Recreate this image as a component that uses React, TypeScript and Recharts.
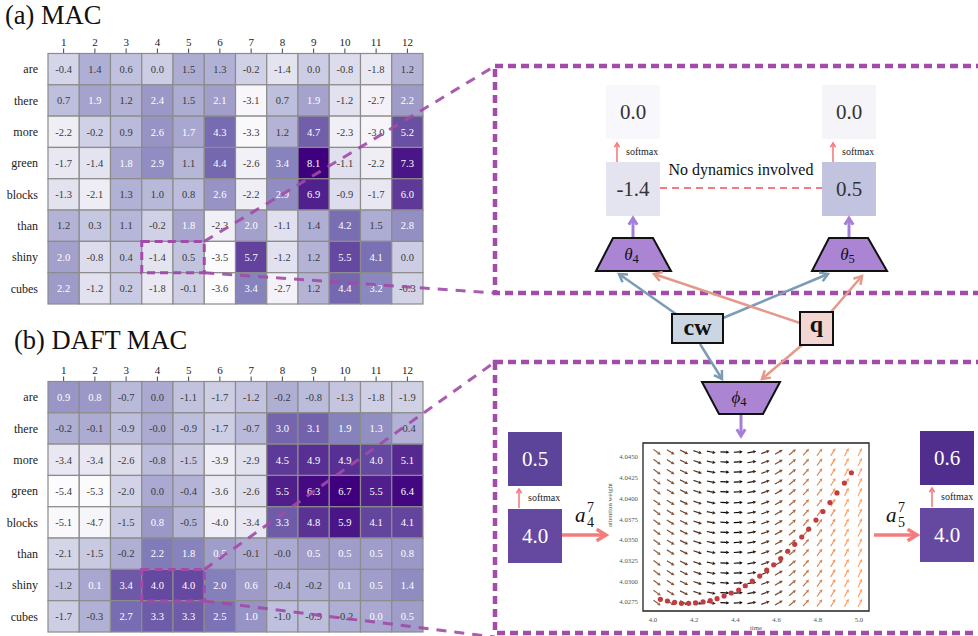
import React from 'react';
import { ScatterChart, Scatter, XAxis, YAxis, ReferenceArea } from 'recharts';

const FONT = '"Liberation Serif", "DejaVu Serif", serif';

// attention logits per word (rows) and reasoning step (columns)
const WORDS = ['are', 'there', 'more', 'green', 'blocks', 'than', 'shiny', 'cubes'];
const STEPS = [1, 2, 3, 4, 5, 6, 7, 8, 9, 10, 11, 12];

const MAC_LOGITS = [
  [-0.4, 1.4, 0.6, 0.0, 1.5, 1.3, -0.2, -1.4, 0.0, -0.8, -1.8, 1.2],
  [0.7, 1.9, 1.2, 2.4, 1.5, 2.1, -3.1, 0.7, 1.9, -1.2, -2.7, 2.2],
  [-2.2, -0.2, 0.9, 2.6, 1.7, 4.3, -3.3, 1.2, 4.7, -2.3, -3.0, 5.2],
  [-1.7, -1.4, 1.8, 2.9, 1.1, 4.4, -2.6, 3.4, 8.1, -1.1, -2.2, 7.3],
  [-1.3, -2.1, 1.3, 1.0, 0.8, 2.6, -2.2, 2.9, 6.9, -0.9, -1.7, 6.0],
  [1.2, 0.3, 1.1, -0.2, 1.8, -2.3, 2.0, -1.1, 1.4, 4.2, 1.5, 2.8],
  [2.0, -0.8, 0.4, -1.4, 0.5, -3.5, 5.7, -1.2, 1.2, 5.5, 4.1, 0.0],
  [2.2, -1.2, 0.2, -1.8, -0.1, -3.6, 3.4, -2.7, 1.2, 4.4, 3.2, -0.3],
];

const DAFT_LOGITS = [
  [0.9, 0.8, -0.7, 0.0, -1.1, -1.7, -1.2, -0.2, -0.8, -1.3, -1.8, -1.9],
  [-0.2, -0.1, -0.9, -0.04, -0.9, -1.7, -0.7, 3.0, 3.1, 1.9, 1.3, -0.4],
  [-3.4, -3.4, -2.6, -0.8, -1.5, -3.9, -2.9, 4.5, 4.9, 4.9, 4.0, 5.1],
  [-5.4, -5.3, -2.0, 0.0, -0.4, -3.6, -2.6, 5.5, 6.3, 6.7, 5.5, 6.4],
  [-5.1, -4.7, -1.5, 0.8, -0.5, -4.0, -3.4, 3.3, 4.8, 5.9, 4.1, 4.1],
  [-2.1, -1.5, -0.2, 2.2, 1.8, 0.5, -0.1, -0.04, 0.5, 0.5, 0.5, 0.8],
  [-1.2, 0.1, 3.4, 4.0, 4.0, 2.0, 0.6, -0.4, -0.2, 0.1, 0.5, 1.4],
  [-1.7, -0.3, 2.7, 3.3, 3.3, 2.5, 1.0, -1.0, -0.9, -0.2, 0.03, 0.5],
];

// highlighted cells: word "shiny", steps 4 and 5
const FOCUS_ROW = 6;
const FOCUS_STEPS = [4, 5];

// zoomed-in values for the two highlighted cells
const MAC_LOGIT_PAIR = [-1.4, 0.5];
const MAC_PROB_PAIR = [0.0, 0.0];
const DAFT_LOGIT_PAIR = [4.0, 4.0];
const DAFT_PROB_PAIR = [0.5, 0.6];

// ODE vector field and the solved attention trajectory
const FIELD_T = [4.02, 4.086, 4.151, 4.217, 4.283, 4.349, 4.414, 4.48, 4.546, 4.611, 4.677, 4.743, 4.809, 4.874, 4.94, 5.005];
const FIELD_W = [4.0274, 4.0286, 4.0298, 4.031, 4.0322, 4.0335, 4.0347, 4.0359, 4.0371, 4.0383, 4.0395, 4.0408, 4.042, 4.0432, 4.0444, 4.0456];
const FIELD_ANGLE = [-36, -32, -26, -19, -11, -3, 3, 10, 20, 30, 40, 48, 54, 59, 62, 65];
const TRAJ_T = [4.036, 4.07, 4.105, 4.138, 4.173, 4.207, 4.243, 4.278, 4.311, 4.345, 4.38, 4.416, 4.448, 4.482, 4.518, 4.552, 4.586, 4.62, 4.654, 4.688, 4.722, 4.756, 4.791, 4.825, 4.859, 4.893, 4.929, 4.963];
const TRAJ_W = [4.02782, 4.02762, 4.02746, 4.02734, 4.02734, 4.02738, 4.0275, 4.02766, 4.0279, 4.02822, 4.02858, 4.02894, 4.02946, 4.03002, 4.03062, 4.03134, 4.03198, 4.03274, 4.03362, 4.03446, 4.03534, 4.0363, 4.03738, 4.03842, 4.0395, 4.04066, 4.04186, 4.0431];
const T_TICKS = [4.0, 4.2, 4.4, 4.6, 4.8, 5.0];
const W_TICKS = [4.0275, 4.03, 4.0325, 4.035, 4.0375, 4.04, 4.0425, 4.045];

const PURPLES = ['#fcfbfd', '#efedf5', '#dadaeb', '#bcbddc', '#9e9ac8', '#807dba', '#6a51a3', '#54278f', '#3f007d'];

function hex(h: string) {
  return [1, 3, 5].map((i) => parseInt(h.slice(i, i + 2), 16));
}

function purples(t: number) {
  const s = Math.max(0, Math.min(1, t)) * (PURPLES.length - 1);
  const i = Math.min(PURPLES.length - 2, Math.floor(s));
  const f = s - i;
  const a = hex(PURPLES[i]);
  const b = hex(PURPLES[i + 1]);
  const c = a.map((v, k) => Math.round(v + (b[k] - v) * f));
  return `rgb(${c[0]},${c[1]},${c[2]})`;
}

function normOf(grid: number[][]) {
  const flat = grid.flat();
  const lo = Math.min(...flat);
  const hi = Math.max(...flat);
  return (v: number) => (v - lo) / (hi - lo);
}

const macNorm = normOf(MAC_LOGITS);
const daftNorm = normOf(DAFT_LOGITS);

// heatmap layout
const HEAT_W = 430;
const HEAT_H = 312;
const HEAT_LEFT = 48;
const HEAT_TOP = 53.5;
const HEAT_RIGHT = 7;
const HEAT_BOTTOM = 8;
const CELL_W = (HEAT_W - HEAT_LEFT - HEAT_RIGHT) / STEPS.length;
const CELL_H = (HEAT_H - HEAT_TOP - HEAT_BOTTOM) / WORDS.length;
const DAFT_TOP = 328.2;
const DASH = '#a24ba8';

const HeatCell = (props: any) => {
  const { cx, cy, payload } = props;
  return (
    <g>
      <rect x={cx - CELL_W / 2} y={cy - CELL_H / 2} width={CELL_W} height={CELL_H} fill={payload.fill} stroke="#8c8c8c" strokeWidth={1.2} />
      <text x={cx} y={cy} dy="0.36em" textAnchor="middle" fontSize={10.5} fontFamily={FONT} fill={payload.ink}>
        {payload.v.toFixed(1)}
      </text>
    </g>
  );
};

function Heatmap({ grid, norm }: { grid: number[][]; norm: (v: number) => number }) {
  const cells = grid.flatMap((row, r) =>
    row.map((v, c) => {
      const t = norm(v);
      return { x: STEPS[c], y: r, v, fill: purples(t), ink: t >= 0.447 ? '#ffffff' : '#3a3a3a' };
    })
  );
  return (
    <ScatterChart width={HEAT_W} height={HEAT_H} margin={{ top: HEAT_TOP - 23.5, right: HEAT_RIGHT, bottom: HEAT_BOTTOM, left: 0 }}>
      <XAxis
        type="number"
        dataKey="x"
        orientation="top"
        domain={[0.5, 12.5]}
        ticks={STEPS}
        interval={0}
        axisLine={false}
        tickLine={{ stroke: '#444' }}
        tickSize={5}
        tickMargin={3}
        height={23.5}
        tick={{ fontSize: 11, fill: '#222', fontFamily: FONT }}
      />
      <YAxis
        type="number"
        dataKey="y"
        domain={[-0.5, 7.5]}
        reversed
        ticks={[0, 1, 2, 3, 4, 5, 6, 7]}
        interval={0}
        tickFormatter={(i: number) => WORDS[i]}
        axisLine={false}
        tickLine={false}
        tickSize={0}
        tickMargin={10}
        width={HEAT_LEFT}
        tick={{ fontSize: 12, fill: '#222', fontFamily: FONT }}
      />
      <Scatter data={cells} shape={HeatCell} isAnimationActive={false} />
    </ScatterChart>
  );
}

function copper(angle: number) {
  const x = Math.min(1, Math.abs(angle) / 78);
  const r = Math.round(255 * Math.min(1, 1.25 * x));
  const g = Math.round(255 * 0.7812 * x);
  const b = Math.round(255 * 0.4975 * x);
  return `rgb(${r},${g},${b})`;
}

const FieldArrow = (props: any) => {
  const { cx, cy, payload } = props;
  const a = (payload.angle * Math.PI) / 180;
  const dx = Math.cos(a);
  const dy = -Math.sin(a);
  const L = 9;
  const tx = cx - (dx * L) / 2;
  const ty = cy - (dy * L) / 2;
  const hx = cx + (dx * L) / 2;
  const hy = cy + (dy * L) / 2;
  const bx = hx - dx * 3.2;
  const by = hy - dy * 3.2;
  const nx = -dy * 1.7;
  const ny = dx * 1.7;
  const col = copper(payload.angle);
  return (
    <g>
      <line x1={tx} y1={ty} x2={bx} y2={by} stroke={col} strokeWidth={1.2} />
      <polygon points={`${hx},${hy} ${bx + nx},${by + ny} ${bx - nx},${by - ny}`} fill={col} />
    </g>
  );
};

const TrajDot = (props: any) => <circle cx={props.cx} cy={props.cy} r={2.6} fill="#c23b40" />;

function PhasePlot() {
  const field = FIELD_T.flatMap((t, i) => FIELD_W.map((w) => ({ t, w, angle: FIELD_ANGLE[i] })));
  const traj = TRAJ_T.map((t, i) => ({ t, w: TRAJ_W[i] }));
  const tDomain = [3.9515, 5.0485];
  const wDomain = [4.02641, 4.04669];
  const tick = { fontSize: 6.8, fill: '#555', fontFamily: FONT };
  return (
    <ScatterChart width={290} height={200} margin={{ top: 13, right: 11, bottom: 0, left: 0 }}>
      <XAxis
        type="number"
        dataKey="t"
        domain={tDomain}
        ticks={T_TICKS}
        interval={0}
        tickFormatter={(v: number) => v.toFixed(1)}
        axisLine={false}
        tickLine={false}
        tickSize={0}
        tickMargin={6}
        height={19}
        tick={tick}
        label={{ value: 'time', position: 'insideBottom', offset: 0, fontSize: 6.8, fill: '#555', fontFamily: FONT }}
      />
      <YAxis
        type="number"
        dataKey="w"
        domain={wDomain}
        ticks={W_TICKS}
        interval={0}
        tickFormatter={(v: number) => v.toFixed(4)}
        axisLine={false}
        tickLine={false}
        tickSize={0}
        tickMargin={5}
        width={53}
        tick={tick}
        label={{ value: 'attention weight', angle: -90, position: 'insideLeft', offset: 20, fontSize: 6.8, fill: '#555', fontFamily: FONT }}
      />
      <Scatter data={field} shape={FieldArrow} isAnimationActive={false} />
      <Scatter data={traj} shape={TrajDot} isAnimationActive={false} />
      <ReferenceArea
        x1={tDomain[0]}
        x2={tDomain[1]}
        y1={wDomain[0]}
        y2={wDomain[1]}
        fill="none"
        fillOpacity={0}
        stroke="#222"
        strokeWidth={1.3}
        ifOverflow="visible"
      />
    </ScatterChart>
  );
}

function Arrow({ x1, y1, x2, y2, color, width, head = 7 }: any) {
  const ang = Math.atan2(y2 - y1, x2 - x1);
  const spread = 0.55;
  const p1 = [x2 - head * Math.cos(ang - spread), y2 - head * Math.sin(ang - spread)];
  const p2 = [x2 - head * Math.cos(ang + spread), y2 - head * Math.sin(ang + spread)];
  return (
    <g stroke={color} strokeWidth={width} fill="none" strokeLinejoin="miter" strokeLinecap="butt">
      <line x1={x1} y1={y1} x2={x2} y2={y2} />
      <polyline points={`${p1[0]},${p1[1]} ${x2},${y2} ${p2[0]},${p2[1]}`} />
    </g>
  );
}

function ValueBox({ x, y, value, fill, ink }: any) {
  return (
    <g>
      <rect x={x} y={y} width={54} height={54} fill={fill} />
      <text x={x + 27} y={y + 27} dy="0.35em" textAnchor="middle" fontSize={21} fontFamily={FONT} fill={ink}>
        {value.toFixed(1)}
      </text>
    </g>
  );
}

function Softmax({ x, y }: any) {
  return (
    <g>
      <Arrow x1={x} y1={y + 19} x2={x} y2={y} color="#f47c7c" width={1.6} head={5} />
      <text x={x + 9} y={y + 12} fontSize={10} fontFamily={FONT} fill="#222">softmax</text>
    </g>
  );
}

function Trapezoid({ points, label, sub }: any) {
  const xs = points.map((p: number[]) => p[0]);
  const ys = points.map((p: number[]) => p[1]);
  const cx = (Math.min(...xs) + Math.max(...xs)) / 2;
  const cy = (Math.min(...ys) + Math.max(...ys)) / 2;
  return (
    <g>
      <polygon points={points.map((p: number[]) => p.join(',')).join(' ')} fill="#ab84d4" stroke="#111" strokeWidth={2} />
      <text x={cx - 2} y={cy + 5} textAnchor="middle" fontSize={17} fontStyle="italic" fontFamily={FONT} fill="#111">
        {label}
        <tspan fontStyle="normal" fontSize={12.5} dy={3}>{sub}</tspan>
      </text>
    </g>
  );
}

function Diagram() {
  const hlLeft = HEAT_LEFT + (FOCUS_STEPS[0] - 1) * CELL_W;
  const hlRight = HEAT_LEFT + FOCUS_STEPS[FOCUS_STEPS.length - 1] * CELL_W;
  const macTop = HEAT_TOP + FOCUS_ROW * CELL_H;
  const daftTop = DAFT_TOP + HEAT_TOP + FOCUS_ROW * CELL_H;
  return (
    <svg width={978} height={636} style={{ position: 'absolute', left: 0, top: 0, pointerEvents: 'none' }}>
      <text x={5} y={24} fontSize={26.5} fontFamily={FONT} fill="#111">(a) MAC</text>
      <text x={14} y={349} fontSize={26.5} fontFamily={FONT} fill="#111">(b) DAFT MAC</text>

      {/* highlighted cells and zoom connectors */}
      <g fill="none" stroke={DASH} strokeWidth={3} strokeDasharray="8 5">
        <rect x={hlLeft} y={macTop} width={hlRight - hlLeft} height={CELL_H} />
        <rect x={hlLeft} y={daftTop} width={hlRight - hlLeft} height={CELL_H} />
      </g>
      <g stroke={DASH} strokeWidth={3} strokeDasharray="10 8" opacity={0.9}>
        <line x1={hlRight} y1={macTop} x2={495} y2={66} />
        <line x1={hlRight} y1={macTop + CELL_H} x2={495} y2={293} />
        <line x1={hlRight} y1={daftTop} x2={495} y2={362} />
        <line x1={hlRight} y1={daftTop + CELL_H} x2={495} y2={637} />
      </g>
      <rect x={495} y={66} width={500} height={227} fill="none" stroke={DASH} strokeWidth={4.5} strokeDasharray="8 5" />
      <rect x={495} y={362} width={500} height={271} fill="none" stroke={DASH} strokeWidth={4.5} strokeDasharray="8 5" />

      {/* MAC: static logits */}
      <ValueBox x={606} y={85} value={MAC_PROB_PAIR[0]} fill="#f8f7fb" ink="#333" />
      <ValueBox x={822} y={85} value={MAC_PROB_PAIR[1]} fill="#f5f4f9" ink="#333" />
      <Softmax x={617} y={143} />
      <Softmax x={833} y={143} />
      <ValueBox x={606} y={162} value={MAC_LOGIT_PAIR[0]} fill={purples(macNorm(MAC_LOGIT_PAIR[0]))} ink="#333" />
      <ValueBox x={822} y={162} value={MAC_LOGIT_PAIR[1]} fill={purples(macNorm(MAC_LOGIT_PAIR[1]))} ink="#333" />
      <line x1={660} y1={188} x2={822} y2={188} stroke="#f47c7c" strokeWidth={2} strokeDasharray="7 5" />
      <text x={741} y={175} textAnchor="middle" fontSize={16} fontFamily={FONT} fill="#111">No dynamics involved</text>
      <Arrow x1={633} y1={238} x2={633} y2={218} color="#a47ed8" width={3} head={8} />
      <Arrow x1={849} y1={238} x2={849} y2={218} color="#a47ed8" width={3} head={8} />
      <Trapezoid points={[[613, 238], [653, 238], [671, 271], [596, 271]]} label="θ" sub="4" />
      <Trapezoid points={[[829, 238], [868, 238], [887, 271], [812, 271]]} label="θ" sub="5" />

      {/* inputs */}
      <Arrow x1={676} y1={314} x2={619} y2={274} color="#7b9bb6" width={2.5} head={9} />
      <Arrow x1={723} y1={318} x2={828} y2={274} color="#7b9bb6" width={2.5} head={9} />
      <Arrow x1={800} y1={323} x2={654} y2={274} color="#e39a8b" width={2.5} head={9} />
      <Arrow x1={831} y1={312} x2={862} y2={276} color="#e39a8b" width={2.5} head={9} />
      <Arrow x1={700} y1={344} x2={722} y2={379} color="#7b9bb6" width={2.5} head={9} />
      <Arrow x1={802} y1={345} x2={762} y2={379} color="#e39a8b" width={2.5} head={9} />
      <rect x={672} y={314} width={51} height={29} fill="#cad7e2" stroke="#111" strokeWidth={2} />
      <text x={697.5} y={335} textAnchor="middle" fontSize={24} fontWeight="bold" fontFamily={FONT} fill="#111">cw</text>
      <rect x={800} y={312} width={33} height={33} fill="#f3d6d1" stroke="#111" strokeWidth={2} />
      <text x={816.5} y={332} textAnchor="middle" fontSize={24} fontWeight="bold" fontFamily={FONT} fill="#111">q</text>

      {/* DAFT MAC: dynamic attention */}
      <Trapezoid points={[[702, 382], [780, 382], [763, 414], [719, 414]]} label="ϕ" sub="4" />
      <Arrow x1={741} y1={415} x2={741} y2={436} color="#a47ed8" width={3} head={8} />
      <ValueBox x={508} y={432} value={DAFT_PROB_PAIR[0]} fill="#5b4499" ink="#fff" />
      <ValueBox x={508} y={509} value={DAFT_LOGIT_PAIR[0]} fill={purples(daftNorm(DAFT_LOGIT_PAIR[0]))} ink="#fff" />
      <ValueBox x={920} y={431} value={DAFT_PROB_PAIR[1]} fill="#4f2e8d" ink="#fff" />
      <ValueBox x={920} y={508} value={DAFT_LOGIT_PAIR[1]} fill={purples(daftNorm(DAFT_LOGIT_PAIR[1]))} ink="#fff" />
      <Softmax x={519} y={489} />
      <Softmax x={932} y={488} />
      <Arrow x1={562} y1={535} x2={606} y2={535} color="#f47c7c" width={3.5} head={11} />
      <Arrow x1={874} y1={535} x2={917} y2={535} color="#f47c7c" width={3.5} head={11} />
      <text x={575} y={522} fontSize={21} fontStyle="italic" fontFamily={FONT} fill="#111">a</text>
      <text x={587} y={512} fontSize={14} fontFamily={FONT} fill="#111">7</text>
      <text x={587} y={527} fontSize={14} fontFamily={FONT} fill="#111">4</text>
      <text x={886} y={522} fontSize={21} fontStyle="italic" fontFamily={FONT} fill="#111">a</text>
      <text x={898} y={512} fontSize={14} fontFamily={FONT} fill="#111">7</text>
      <text x={898} y={527} fontSize={14} fontFamily={FONT} fill="#111">5</text>
    </svg>
  );
}

export default function App() {
  return (
    <div style={{ position: 'absolute', left: 0, top: 0, width: 978, height: 636, background: '#fff', overflow: 'hidden', fontFamily: FONT }}>
      <div style={{ position: 'absolute', left: 0, top: 0 }}>
        <Heatmap grid={MAC_LOGITS} norm={macNorm} />
      </div>
      <div style={{ position: 'absolute', left: 0, top: DAFT_TOP }}>
        <Heatmap grid={DAFT_LOGITS} norm={daftNorm} />
      </div>
      <div style={{ position: 'absolute', left: 590, top: 430 }}>
        <PhasePlot />
      </div>
      <Diagram />
    </div>
  );
}
